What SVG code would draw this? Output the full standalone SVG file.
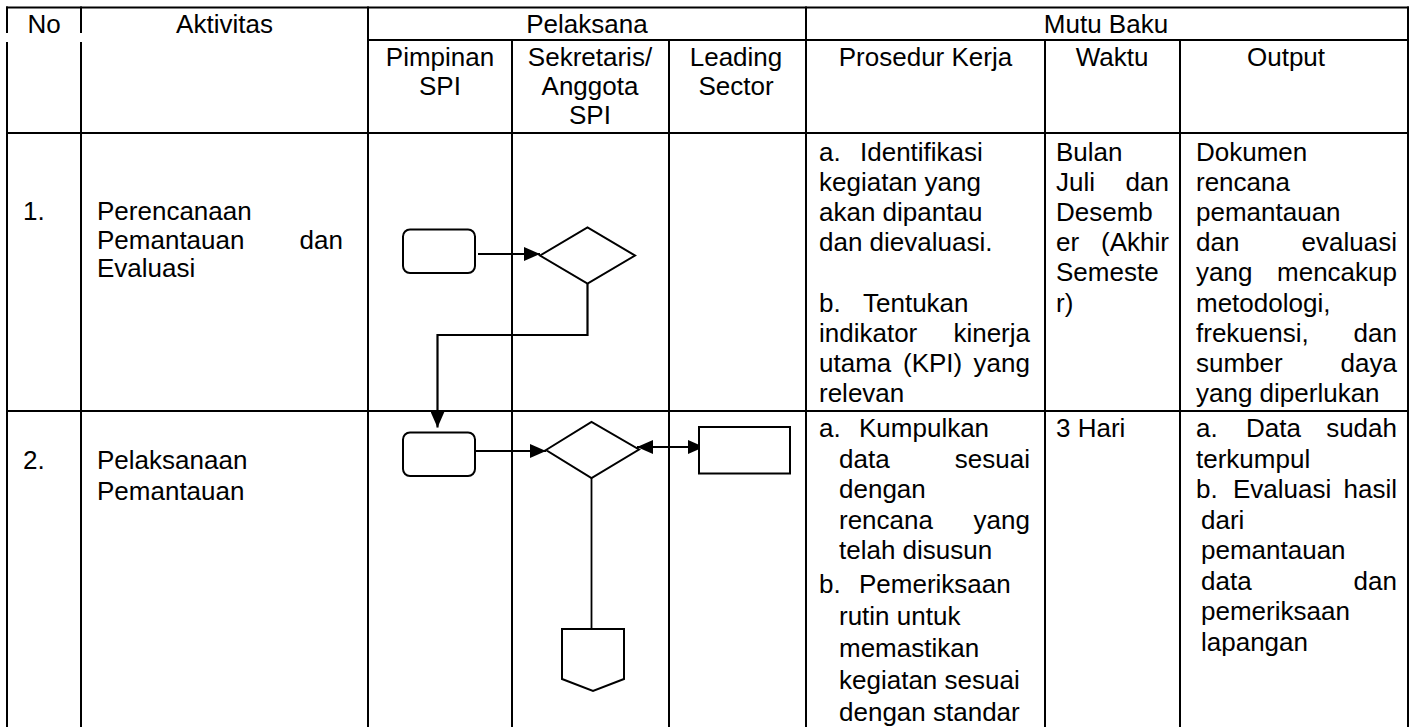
<svg xmlns="http://www.w3.org/2000/svg" width="1415" height="727" viewBox="0 0 1415 727">
<style>
.grid line{stroke:#000;stroke-width:2}
text{font-family:"Liberation Sans",Arial,sans-serif;font-size:26px;fill:#000}
.c{text-anchor:middle}
.e{text-anchor:end}
.shape{fill:#fff;stroke:#000;stroke-width:2}
.conn{fill:none;stroke:#000;stroke-width:2.2}
</style>
<defs>
<marker id="ah" markerUnits="userSpaceOnUse" markerWidth="16" markerHeight="14" viewBox="0 0 16 14" refX="16" refY="7" orient="auto-start-reverse">
<path d="M0,0 L16,7 L0,14 z" fill="#000"/>
</marker>
</defs>
<rect width="1415" height="727" fill="#fff"/>
<g id="grid" class="grid">
<line x1="6" y1="7.5" x2="1409" y2="7.5"/>
<line x1="367" y1="40" x2="1409" y2="40"/>
<line x1="6" y1="133" x2="1409" y2="133"/>
<line x1="6" y1="411" x2="1409" y2="411"/>
<line x1="7" y1="6.5" x2="7" y2="33"/>
<line x1="7" y1="42" x2="7" y2="727"/>
<line x1="81" y1="6.5" x2="81" y2="33"/>
<line x1="81" y1="42" x2="81" y2="727"/>
<line x1="368" y1="6.5" x2="368" y2="727"/>
<line x1="512" y1="40" x2="512" y2="727"/>
<line x1="669" y1="40" x2="669" y2="727"/>
<line x1="806" y1="6.5" x2="806" y2="727"/>
<line x1="1045" y1="40" x2="1045" y2="727"/>
<line x1="1180" y1="40" x2="1180" y2="727"/>
<line x1="1408" y1="6.5" x2="1408" y2="727"/>
</g>
<g id="header">
<text class="c" x="44" y="33">No</text>
<text class="c" x="224.5" y="33">Aktivitas</text>
<text class="c" x="587" y="33">Pelaksana</text>
<text class="c" x="1106" y="33">Mutu Baku</text>
<text class="c" x="440" y="66">Pimpinan</text>
<text class="c" x="440" y="95">SPI</text>
<text class="c" x="590" y="66">Sekretaris/</text>
<text class="c" x="590" y="95">Anggota</text>
<text class="c" x="590" y="124">SPI</text>
<text class="c" x="736" y="66">Leading</text>
<text class="c" x="736" y="95">Sector</text>
<text class="c" x="925.5" y="66">Prosedur Kerja</text>
<text class="c" x="1112" y="66">Waktu</text>
<text class="c" x="1286" y="66">Output</text>
</g>
<g id="row1">
<text x="23" y="220">1.</text>
<text x="97" y="220">Perencanaan</text>
<text y="248.5"><tspan x="97">Pemantauan</tspan><tspan class="e" x="343">dan</tspan></text>
<text x="97" y="277">Evaluasi</text>
<text y="161"><tspan x="819">a.</tspan><tspan x="860">Identifikasi</tspan></text>
<text x="819" y="191">kegiatan yang</text>
<text x="819" y="221">akan dipantau</text>
<text x="819" y="251">dan dievaluasi.</text>
<text y="311.5"><tspan x="819">b.</tspan><tspan x="863">Tentukan</tspan></text>
<text y="341.6"><tspan x="819">indikator</tspan><tspan class="e" x="1030">kinerja</tspan></text>
<text y="371.7"><tspan x="819">utama</tspan><tspan x="903">(KPI)</tspan><tspan class="e" x="1030">yang</tspan></text>
<text x="819" y="401.8">relevan</text>
<text x="1056" y="161">Bulan</text>
<text y="191"><tspan x="1056">Juli</tspan><tspan class="e" x="1169">dan</tspan></text>
<text x="1056" y="221">Desemb</text>
<text y="251"><tspan x="1056">er</tspan><tspan class="e" x="1169">(Akhir</tspan></text>
<text x="1056" y="281">Semeste</text>
<text x="1056" y="311.5">r)</text>
<text x="1196" y="161">Dokumen</text>
<text x="1196" y="191">rencana</text>
<text x="1196" y="221">pemantauan</text>
<text y="251"><tspan x="1196">dan</tspan><tspan class="e" x="1397">evaluasi</tspan></text>
<text y="281"><tspan x="1196">yang</tspan><tspan class="e" x="1397">mencakup</tspan></text>
<text x="1196" y="311.5">metodologi,</text>
<text y="341.6"><tspan x="1196">frekuensi,</tspan><tspan class="e" x="1397">dan</tspan></text>
<text y="371.7"><tspan x="1196">sumber</tspan><tspan class="e" x="1397">daya</tspan></text>
<text x="1196" y="401.8">yang diperlukan</text>
</g>
<g id="row2">
<text x="23" y="468.6">2.</text>
<text x="97" y="468.6">Pelaksanaan</text>
<text x="97" y="499.6">Pemantauan</text>
<text y="437"><tspan x="819">a.</tspan><tspan x="859">Kumpulkan</tspan></text>
<text y="467.5"><tspan x="839">data</tspan><tspan class="e" x="1030">sesuai</tspan></text>
<text x="839" y="498">dengan</text>
<text y="528.5"><tspan x="839">rencana</tspan><tspan class="e" x="1030">yang</tspan></text>
<text x="839" y="559">telah disusun</text>
<text y="593"><tspan x="819">b.</tspan><tspan x="859">Pemeriksaan</tspan></text>
<text x="839" y="625">rutin untuk</text>
<text x="839" y="657">memastikan</text>
<text x="839" y="689">kegiatan sesuai</text>
<text x="839" y="721">dengan standar</text>
<text x="1056" y="437">3 Hari</text>
<text y="437"><tspan x="1196">a.</tspan><tspan x="1246">Data</tspan><tspan class="e" x="1397">sudah</tspan></text>
<text x="1196" y="467.5">terkumpul</text>
<text y="498"><tspan x="1196">b.</tspan><tspan x="1233">Evaluasi</tspan><tspan class="e" x="1397">hasil</tspan></text>
<text x="1201" y="528.5">dari</text>
<text x="1201" y="559">pemantauan</text>
<text y="589.5"><tspan x="1201">data</tspan><tspan class="e" x="1397">dan</tspan></text>
<text x="1201" y="620">pemeriksaan</text>
<text x="1201" y="650.5">lapangan</text>
</g>
<g id="connectors">
<path class="conn" d="M478,254 H540" marker-end="url(#ah)"/>
<path class="conn" d="M587.5,283.5 V335 H437.5 V427.5" marker-end="url(#ah)"/>
<path class="conn" d="M475,451 H546" marker-end="url(#ah)"/>
<path class="conn" d="M637,447 H704" marker-start="url(#ah)" marker-end="url(#ah)"/>
<path class="conn" d="M591.5,478 V629" style="stroke-width:1.8"/>
</g>
<g id="start1"><rect class="shape" x="403" y="229.5" width="72" height="43.5" rx="7"/></g>
<g id="decision1"><polygon class="shape" points="540,255.5 587.5,227.5 635,255.5 587.5,283.5"/></g>
<g id="start2"><rect class="shape" x="403" y="432.5" width="72" height="43.5" rx="7"/></g>
<g id="decision2"><polygon class="shape" points="546,450 591.5,422 639,449.5 591.5,478"/></g>
<g id="process-leading"><rect class="shape" x="699" y="427" width="91" height="46.5"/></g>
<g id="offpage"><polygon class="shape" points="562,629 624,629 624,679 593,691 562,679"/></g>
</svg>
